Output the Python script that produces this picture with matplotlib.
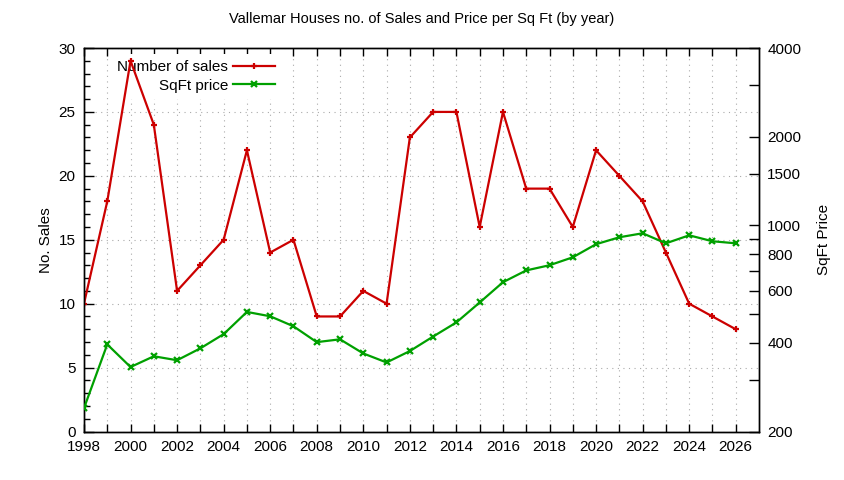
import matplotlib
matplotlib.use("Agg")
import matplotlib.pyplot as plt
from matplotlib.ticker import FixedLocator, FixedFormatter, NullFormatter

years = list(range(1998, 2027))
sales = [10, 18, 29, 24, 11, 13, 15, 22, 14, 15, 9, 9, 11, 10,
         23, 25, 25, 16, 25, 19, 19, 16, 22, 20, 18, 14, 10, 9, 8]
sqft_price = [240, 395, 331, 360, 349, 383, 428, 509, 492, 455, 402, 411,
              368, 343, 375, 420, 469, 548, 642, 704, 733, 780, 864, 912,
              941, 870, 926, 884, 870]

x_labels = [str(y) if y % 2 == 0 else "" for y in years]
right_ticks = [200, 400, 600, 800, 1000, 1500, 2000, 4000]
right_minor = [300, 500, 700, 900, 3000]

plt.rcParams['font.family'] = ['Liberation Sans', 'DejaVu Sans']

fig = plt.figure(figsize=(8.44, 4.8), dpi=100)
ax = fig.add_axes([0.0995, 0.101, 0.7998, 0.799])
ax2 = ax.twinx()

red = '#cc0000'
green = '#00a000'

l1, = ax.plot(years, sales, color=red, lw=1.6, marker='+', ms=4, mew=1.6,
              label='Number of sales', zorder=3)
l2, = ax2.plot(years, sqft_price, color=green, lw=1.6, marker='x', ms=4,
               mew=1.6, label='SqFt price', zorder=3)

ax.set_xlim(1998, 2027)
ax.set_ylim(0, 30)
ax.set_xticks(years)
ax.set_xticklabels(x_labels)
ax.set_yticks(range(0, 31, 5))
ax.set_yticks(range(0, 31), minor=True)

ax2.set_yscale('log')
ax2.set_ylim(200, 4000)
ax2.yaxis.set_major_locator(FixedLocator(right_ticks))
ax2.yaxis.set_major_formatter(FixedFormatter([str(v) for v in right_ticks]))
ax2.yaxis.set_minor_locator(FixedLocator(right_minor))
ax2.yaxis.set_minor_formatter(NullFormatter())

ax.tick_params(axis='both', which='both', direction='in', labelsize=11, width=1)
ax.tick_params(axis='x', which='major', length=6, top=True, pad=6)
ax.tick_params(axis='y', which='major', length=7, pad=6)
ax.tick_params(axis='y', which='minor', length=4)
ax2.tick_params(axis='y', which='both', direction='in', length=7, width=1,
                labelsize=11, pad=6)

ax.grid(True, axis='both', which='major', color='#aaaaaa', ls=(0, (1, 4)), lw=0.8)
ax.set_axisbelow(True)

for s in ax.spines.values():
    s.set_linewidth(1)
for s in ax2.spines.values():
    s.set_linewidth(1)

ax.set_ylabel('No. Sales', fontsize=11, labelpad=4)
ax2.set_ylabel('SqFt Price', fontsize=11, labelpad=11)
fig.text(0.5, 0.96, 'Vallemar Houses no. of Sales and Price per Sq Ft (by year)',
         ha='center', va='center', fontsize=10.5)

leg = ax.legend([l1, l2], ['Number of sales', 'SqFt price'], loc='upper left',
                bbox_to_anchor=(0.040, 0.985), markerfirst=False, fontsize=11,
                handlelength=2.7, handletextpad=0.35, labelspacing=0.32,
                borderpad=0.4, borderaxespad=0, frameon=True, fancybox=False,
                framealpha=1, facecolor='white', edgecolor='none')
for t in leg.get_texts():
    t.set_ha('right')
leg._legend_box.align = 'right'
leg.set_zorder(1.5)

fig.savefig('out.png', dpi=100)
